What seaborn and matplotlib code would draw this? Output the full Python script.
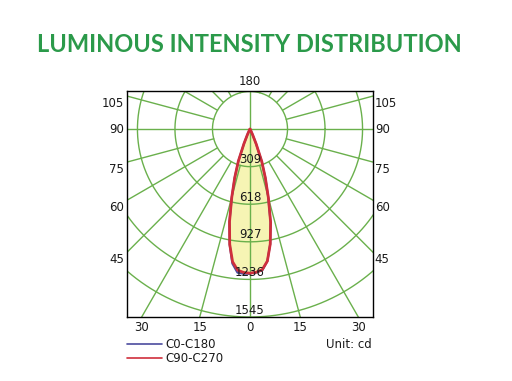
import numpy as np
import pandas as pd
import matplotlib
matplotlib.use("Agg")
import matplotlib.pyplot as plt
from matplotlib.lines import Line2D
import seaborn as sns

# gamma angles (deg from nadir) and intensities (cd) for each half-plane
gamma = [0, 2.5, 5, 7.5, 10, 12.5, 15, 17.5, 20, 22.5, 25, 27.5, 30, 35, 40, 90]
c0 = [1185, 1180, 1165, 1095, 960, 780, 580, 420, 280, 130, 50, 15, 4, 1, 0, 0]
c180 = [1190, 1190, 1185, 1115, 965, 780, 580, 420, 280, 130, 50, 15, 4, 1, 0, 0]
c90 = [1185, 1178, 1160, 1095, 960, 785, 585, 420, 285, 135, 50, 15, 4, 1, 0, 0]
c270 = [1185, 1180, 1165, 1100, 962, 780, 580, 418, 280, 130, 50, 15, 4, 1, 0, 0]

ring_step = 309
ring_labels = ["309", "618", "927", "1236", "1545"]
side_angles = [45, 60, 75, 90, 105]
bottom_angles = [30, 15, 0, 15, 30]

GRID = "#6ab04c"
TITLE = "#2b9a4a"
TXT = "#1a1a1a"

sns.set_theme(style="white")
plt.rcParams["font.family"] = ["DejaVu Sans"]

fig = plt.figure(figsize=(5.12, 3.81), dpi=100)
ax = fig.add_axes([127 / 512, 1 - 317 / 381, 246 / 512, 226 / 381])
XMAX, YMIN, YMAX = 1013, -1545, 313
ax.set_xlim(-XMAX, XMAX)
ax.set_ylim(YMIN, YMAX)

# grid circles
t = np.linspace(0, 2 * np.pi, 400)
for k in range(1, 6):
    r = k * ring_step
    ax.plot(r * np.cos(t), r * np.sin(t), color=GRID, lw=1, zorder=2)

# rays every 15 deg
for a in range(0, 360, 15):
    th = np.radians(a)
    r0 = 0 if a % 90 == 0 else ring_step
    ax.plot([r0 * np.sin(th), 3000 * np.sin(th)],
            [-r0 * np.cos(th), -3000 * np.cos(th)], color=GRID, lw=1, zorder=2)


def half(g, vals, side):
    g = np.radians(np.array(g))
    v = np.array(vals)
    return pd.DataFrame({"x": side * v * np.sin(g), "y": -v * np.cos(g)})


def curve(left, right):
    l = half(gamma, left, -1)
    r = half(gamma, right, 1)
    return pd.concat([l.iloc[::-1], r], ignore_index=True)


blue = curve(c180, c0)
red = curve(c270, c90)
ax.fill(red["x"], red["y"], color="#f6f4b4", zorder=1)
sns.lineplot(data=blue, x="x", y="y", sort=False, estimator=None,
             color="#4b4c9e", lw=1.5, ax=ax, zorder=3)
sns.lineplot(data=red, x="x", y="y", sort=False, estimator=None,
             color="#cf2f3c", lw=2, ax=ax, zorder=4)

# ring labels
for k, lab in enumerate(ring_labels, start=1):
    ax.text(0, -k * ring_step + 4, lab, ha="center", va="bottom",
            fontsize=8.5, color=TXT, zorder=5)

ax.set_xticks([])
ax.set_yticks([])
ax.set_xlabel("")
ax.set_ylabel("")
for s in ax.spines.values():
    s.set_color("black")
    s.set_linewidth(1)
    s.set_visible(True)

# angle labels on sides
for a in side_angles:
    y = -XMAX / np.tan(np.radians(a)) if a != 90 else 0
    if a != 90:
        y -= 60
    ax.text(-XMAX - 25, y, str(a), ha="right", va="center", fontsize=8.5,
            color=TXT, clip_on=False)
    ax.text(XMAX + 15, y, str(a), ha="left", va="center", fontsize=8.5,
            color=TXT, clip_on=False)
ax.text(0, YMAX + 25, "180", ha="center", va="bottom", fontsize=8.5,
        color=TXT, clip_on=False)
for i, a in enumerate(bottom_angles):
    side = -1 if i < 2 else 1
    x = side * (-YMIN) * np.tan(np.radians(a))
    ax.text(x, YMIN - 30, str(a), ha="center", va="top", fontsize=8.5,
            color=TXT, clip_on=False)

fig.text(249 / 512, 1 - 45 / 381, "LUMINOUS INTENSITY DISTRIBUTION",
         ha="center", va="center", fontsize=17, fontweight="bold",
         color=TITLE, family=["Lato", "DejaVu Sans"])

# legend
for yy, col, lab in [(344, "#4b4c9e", "C0-C180"), (358, "#cf2f3c", "C90-C270")]:
    fy = 1 - yy / 381
    fig.add_artist(Line2D([127 / 512, 162 / 512], [fy, fy], color=col, lw=1.2))
    fig.text(165 / 512, fy, lab, ha="left", va="center", fontsize=8.5,
             color=TXT)
fig.text(372 / 512, 1 - 344 / 381, "Unit: cd", ha="right", va="center",
         fontsize=8.5, color=TXT)

fig.savefig("out.png", dpi=100)
